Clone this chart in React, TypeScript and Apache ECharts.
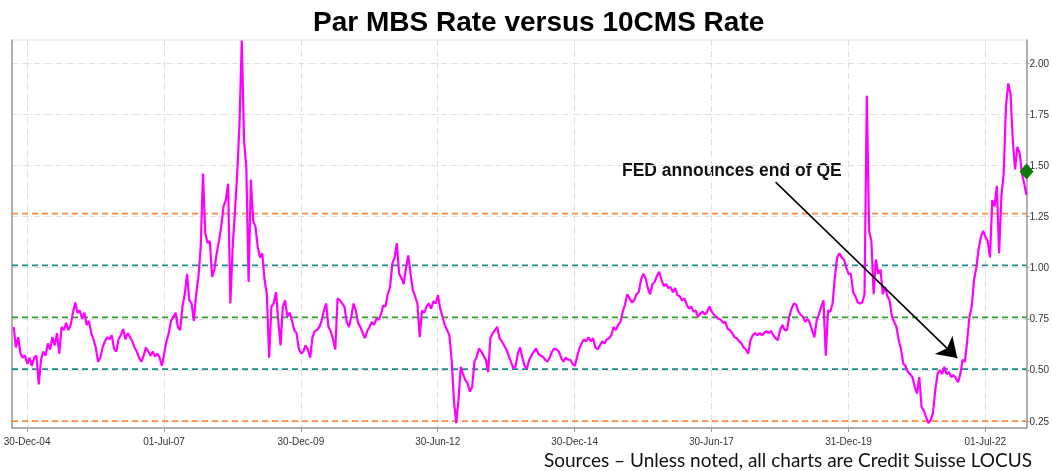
import React, { useEffect, useRef } from 'react';
import * as echarts from 'echarts';

const chartTitle = 'Par MBS Rate versus 10CMS Rate';
const sourceNote = 'Sources – Unless noted, all charts are Credit Suisse LOCUS';
const annotationText = 'FED announces end of QE';

// semi-monthly observations starting at this date
const firstObservation = '2004-10-01';
const observationsPerYear = 24;
const spreadValues = [
  0.71, 0.61, 0.66, 0.58, 0.56, 0.57, 0.53, 0.56, 0.52, 0.56, 0.57, 0.43,
  0.55, 0.59, 0.57, 0.63, 0.60, 0.66, 0.62, 0.68, 0.58, 0.71, 0.695, 0.73,
  0.695, 0.72, 0.78, 0.83, 0.78, 0.79, 0.75, 0.78, 0.72, 0.74, 0.68, 0.65,
  0.61, 0.54, 0.56, 0.61, 0.64, 0.66, 0.65, 0.67, 0.605, 0.59, 0.65, 0.67,
  0.70, 0.65, 0.68, 0.66, 0.64, 0.61, 0.59, 0.56, 0.54, 0.57, 0.61, 0.59,
  0.57, 0.59, 0.565, 0.58, 0.56, 0.52, 0.58, 0.64, 0.68, 0.74, 0.76, 0.78,
  0.71, 0.695, 0.81, 0.87, 0.97, 0.84, 0.825, 0.74, 0.87, 0.955, 1.10, 1.46,
  1.17, 1.12, 1.13, 0.955, 0.99, 1.07, 1.13, 1.20, 1.30, 1.33, 1.41, 0.825,
  1.10, 1.27, 1.46, 1.70, 2.11, 1.62, 1.49, 0.93, 1.43, 1.23, 1.20, 1.10,
  1.05, 1.07, 0.94, 0.87, 0.56, 0.81, 0.825, 0.88, 0.74, 0.62, 0.81, 0.84,
  0.76, 0.78, 0.74, 0.695, 0.68, 0.605, 0.58, 0.59, 0.62, 0.60, 0.56, 0.66,
  0.69, 0.695, 0.71, 0.74, 0.79, 0.825, 0.71, 0.69, 0.65, 0.60, 0.85, 0.84,
  0.825, 0.81, 0.735, 0.71, 0.76, 0.825, 0.79, 0.73, 0.71, 0.68, 0.655, 0.69,
  0.71, 0.735, 0.72, 0.75, 0.745, 0.77, 0.815, 0.81, 0.87, 0.905, 1.02, 1.05,
  1.12, 0.97, 0.95, 0.92, 1.00, 1.06, 0.97, 0.89, 0.86, 0.825, 0.66, 0.79,
  0.78, 0.81, 0.825, 0.80, 0.835, 0.825, 0.865, 0.80, 0.76, 0.72, 0.695, 0.67,
  0.55, 0.353, 0.24, 0.353, 0.515, 0.48, 0.45, 0.435, 0.394, 0.418, 0.54, 0.565,
  0.605, 0.59, 0.57, 0.55, 0.49, 0.655, 0.68, 0.695, 0.71, 0.655, 0.64, 0.62,
  0.60, 0.57, 0.54, 0.51, 0.515, 0.58, 0.61, 0.56, 0.52, 0.507, 0.55, 0.57,
  0.59, 0.605, 0.58, 0.57, 0.565, 0.55, 0.54, 0.56, 0.59, 0.605, 0.60, 0.59,
  0.56, 0.54, 0.56, 0.55, 0.55, 0.53, 0.52, 0.565, 0.605, 0.63, 0.65, 0.64,
  0.66, 0.64, 0.655, 0.61, 0.60, 0.62, 0.64, 0.63, 0.65, 0.655, 0.67, 0.71,
  0.695, 0.72, 0.735, 0.785, 0.82, 0.87, 0.85, 0.83, 0.84, 0.87, 0.88, 0.94,
  0.97, 0.95, 0.90, 0.87, 0.92, 0.93, 0.96, 0.98, 0.94, 0.91, 0.92, 0.90,
  0.905, 0.88, 0.90, 0.865, 0.86, 0.84, 0.85, 0.82, 0.80, 0.81, 0.785, 0.79,
  0.76, 0.775, 0.785, 0.77, 0.785, 0.81, 0.785, 0.77, 0.76, 0.75, 0.745, 0.73,
  0.735, 0.70, 0.695, 0.68, 0.66, 0.655, 0.64, 0.63, 0.61, 0.60, 0.58, 0.645,
  0.67, 0.68, 0.67, 0.68, 0.67, 0.68, 0.69, 0.68, 0.69, 0.67, 0.655, 0.645,
  0.695, 0.72, 0.695, 0.695, 0.76, 0.80, 0.825, 0.82, 0.785, 0.77, 0.76, 0.735,
  0.75, 0.73, 0.695, 0.66, 0.74, 0.77, 0.81, 0.84, 0.57, 0.79, 0.785, 0.825,
  0.955, 1.05, 1.07, 1.05, 1.04, 1.00, 0.97, 0.97, 0.88, 0.86, 0.83, 0.825,
  0.83, 0.87, 1.84, 1.18, 1.13, 0.87, 1.04, 0.97, 0.99, 0.87, 0.905, 0.86,
  0.84, 0.76, 0.735, 0.71, 0.645, 0.60, 0.53, 0.52, 0.49, 0.48, 0.465, 0.418,
  0.385, 0.465, 0.32, 0.30, 0.27, 0.24, 0.255, 0.29, 0.40, 0.48, 0.50, 0.48,
  0.515, 0.48, 0.49, 0.465, 0.475, 0.46, 0.44, 0.48, 0.55, 0.54, 0.645, 0.76,
  0.81, 0.94, 1.00, 1.09, 1.15, 1.18, 1.15, 1.13, 1.05, 1.33, 1.30, 1.40,
  1.07, 1.35, 1.46, 1.79, 1.90, 1.85, 1.62, 1.48, 1.59, 1.56, 1.46, 1.41,
  1.355,
];
const latestValue = 1.47;

const tickDates = ['2004-12-30', '2007-07-01', '2009-12-30', '2012-06-30', '2014-12-30', '2017-06-30', '2019-12-31', '2022-07-01'];
const tickLabels = ['30-Dec-04', '01-Jul-07', '30-Dec-09', '30-Jun-12', '30-Dec-14', '30-Jun-17', '31-Dec-19', '01-Jul-22'];
const yTicks = [0.25, 0.5, 0.75, 1.0, 1.25, 1.5, 1.75, 2.0];
const bandLevels = [0.250, 0.504, 0.757, 1.011, 1.264];
const bandColors = ['#FF8A3D', '#1E8A8A', '#2AA02A', '#1E8A8A', '#FF8A3D'];
const xRange = ['2004-09-20', '2023-04-02'];
const yRange = [0.2164, 2.1125];
const arrowFrom: [string, number] = ['2018-09-01', 1.418];
const arrowTo: [string, number] = ['2021-12-26', 0.558];

function toYear(s: string): number {
  const [y, m, d] = s.split('-').map(Number);
  const start = Date.UTC(y, 0, 1);
  const end = Date.UTC(y + 1, 0, 1);
  return y + (Date.UTC(y, m - 1, d || 1) - start) / (end - start);
}

export default function App() {
  const ref = useRef<HTMLDivElement>(null);
  useEffect(() => {
    if (!ref.current) return;
    const chart = echarts.init(ref.current, undefined, { renderer: 'svg' });
    const tickYears = tickDates.map(toYear);
    const xMin = toYear(xRange[0]);
    const xMax = toYear(xRange[1]);
    const x0 = toYear(firstObservation);
    const lineData = spreadValues.map((v, j) => [x0 + j / observationsPerYear, v]);
    const lastX = x0 + (spreadValues.length - 1) / observationsPerYear;
    const gridLine = { show: true, lineStyle: { color: '#dedede', width: 1, type: [6, 2, 1, 2] } };
    const font = 'Liberation Sans';

    const bandSeries = bandLevels.map((lv, i) => ({
      type: 'line',
      data: [[xMin, lv], [xMax, lv]],
      symbol: 'none',
      silent: true,
      z: 1,
      lineStyle: { color: bandColors[i], width: 1.6, type: [6, 4] },
    }));

    chart.setOption({
      animation: false,
      title: {
        text: chartTitle,
        left: 308,
        top: 2,
        textStyle: { fontFamily: font, fontWeight: 'bold', fontSize: 28, color: '#000' },
      },
      grid: { left: 12, right: 24, top: 40, bottom: 43, show: true, borderColor: '#e4e4e4', borderWidth: 1 },
      xAxis: {
        type: 'value',
        min: xMin,
        max: xMax,
        axisLine: { show: true, lineStyle: { color: '#9a9a9a', width: 1.5 } },
        axisTick: { show: true, length: 4, customValues: tickYears, lineStyle: { color: '#9a9a9a' } },
        axisLabel: {
          customValues: tickYears,
          margin: 8,
          fontFamily: font,
          fontSize: 10,
          color: '#333',
          formatter: (val: number) => {
            let best = 0;
            tickYears.forEach((t, i) => { if (Math.abs(t - val) < Math.abs(tickYears[best] - val)) best = i; });
            return tickLabels[best];
          },
        },
        splitLine: gridLine,
      },
      yAxis: [
        {
          type: 'value',
          position: 'right',
          min: yRange[0],
          max: yRange[1],
          axisLine: { show: true, lineStyle: { color: '#9a9a9a', width: 1.5 } },
          axisTick: { show: true, length: 3, customValues: yTicks, lineStyle: { color: '#9a9a9a' } },
          axisLabel: {
            customValues: yTicks,
            margin: 3,
            fontFamily: font,
            fontSize: 10,
            color: '#333',
            formatter: (v: number) => v.toFixed(2),
          },
          splitLine: gridLine,
        },
        {
          type: 'value',
          position: 'left',
          min: yRange[0],
          max: yRange[1],
          axisLine: { show: true, lineStyle: { color: '#9a9a9a', width: 1.5 } },
          axisTick: { show: false },
          axisLabel: { show: false },
          splitLine: { show: false },
        },
      ],
      graphic: [
        {
          type: 'text',
          x: 622,
          y: 170,
          style: { text: annotationText, font: `bold 17.5px "${font}"`, fill: '#111', verticalAlign: 'middle' },
        },
        {
          type: 'text',
          right: 20,
          bottom: 2,
          style: { text: sourceNote, font: '19px Lato', fill: '#111' },
        },
      ],
      series: [
        ...bandSeries,
        {
          type: 'line',
          data: lineData,
          symbol: 'none',
          z: 3,
          lineStyle: { color: '#FF00FF', width: 2.2 },
          markLine: {
            silent: true,
            symbol: ['none', 'arrow'],
            symbolSize: 19,
            label: { show: false },
            lineStyle: { color: '#000', width: 1.6, type: 'solid' },
            data: [[
              { coord: [toYear(arrowFrom[0]), arrowFrom[1]], symbol: 'none' },
              { coord: [toYear(arrowTo[0]), arrowTo[1]], symbol: 'arrow' },
            ]],
          },
        },
        {
          type: 'scatter',
          data: [[lastX, latestValue]],
          symbol: 'diamond',
          symbolSize: [14, 16],
          clip: false,
          z: 4,
          itemStyle: { color: '#0B7A0B', opacity: 1 },
        },
      ],
    });
    return () => chart.dispose();
  }, []);
  return <div ref={ref} style={{ position: 'fixed', left: 0, top: 0, width: 1052, height: 471 }} />;
}
